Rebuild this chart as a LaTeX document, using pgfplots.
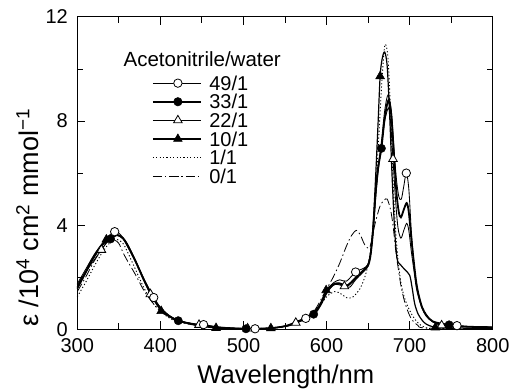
\documentclass[border=0pt]{standalone}
\usepackage{fontspec}
\setmainfont{Liberation Sans}
\usepackage{pgfplots}
\pgfplotsset{compat=1.18}
\begin{document}
\begin{tikzpicture}
\useasboundingbox (-77.3pt,-60.7pt) rectangle (432.7pt,329.3pt);
\begin{axis}[
  at={(0pt,0pt)}, anchor=south west, clip=false,
  scale only axis, width=415.4pt, height=312.4pt,
  xmin=300, xmax=800, ymin=0, ymax=12,
  xtick={300,400,...,800}, minor x tick num=1,
  ytick={0,4,8,12}, minor y tick num=1,
  tick align=inside, major tick length=8pt, minor tick length=6pt,
  every tick/.style={black, line width=0.9pt},
  axis line style={line width=1.1pt},
  /pgf/number format/assume math mode=true,
  /pgf/number format/1000 sep={},
  ticklabel style={font=\fontsize{20}{24}\selectfont},
  xticklabel style={inner sep=0pt, yshift=-8.7pt},
  yticklabel style={inner sep=0pt, xshift=-9.3pt},
  legend style={at={(axis description cs:0.1798,0.8177)}, anchor=north west, draw=none, fill=none,
    inner sep=0pt, outer sep=0pt, row sep=0pt, column sep=6pt,
    font=\fontsize{20}{20}\selectfont,
    nodes={inner xsep=1pt, inner ysep=2.05pt, text height=14.5pt, text depth=0pt}},
  legend cell align=left,
  legend image code/.code={\draw[mark repeat=2,mark phase=2,#1] plot coordinates {(0pt,0pt) (25pt,0pt) (48.5pt,0pt)};},
]
% ---------- curves ----------
% 0/1 dash-dot
\addplot[forget plot, black, line width=0.8pt, dash pattern=on 9pt off 3pt on 1.5pt off 3pt, smooth, tension=0.5] coordinates {
(300,1.45)(310,2.0)(320,2.6)(330,3.1)(338,3.4)(345,3.42)(350,3.3)(355,2.95)(360,2.65)(370,2.1)(380,1.5)(390,1.05)(400,0.7)(420,0.32)(450,0.12)(500,0.02)(550,0.1)(570,0.35)(585,0.7)(600,1.55)(608,2.0)(616,2.55)(624,3.2)(630,3.6)(636,3.8)(641,3.6)(646,3.25)(652,3.15)(658,4.0)(664,4.7)(669,4.95)(673,5.0)(677,4.6)(680,4.0)(683,3.1)(686,2.4)(690,1.6)(695,0.95)(702,0.4)(710,0.15)(720,0.05)(800,0.02)};
% 1/1 dotted
\addplot[forget plot, black, line width=0.9pt, dash pattern=on 1.2pt off 2.2pt, smooth, tension=0.5] coordinates {
(300,1.25)(310,1.8)(320,2.4)(330,2.95)(340,3.35)(348,3.45)(355,3.3)(360,3.0)(370,2.3)(380,1.6)(390,1.05)(400,0.7)(410,0.45)(420,0.3)(440,0.17)(460,0.08)(500,0.02)(530,0.03)(560,0.2)(580,0.5)(590,0.8)(600,1.25)(610,1.45)(618,1.35)(625,1.2)(632,1.25)(640,1.55)(646,2.0)(650,2.5)(654,3.3)(658,4.8)(662,6.9)(666,9.2)(669,10.6)(671,10.95)(674,10.4)(677,8.4)(680,5.8)(683,3.9)(686,2.7)(690,1.7)(695,1.1)(702,0.6)(710,0.25)(718,0.08)(730,0.03)(800,0.02)};
% 10/1
\addplot[forget plot, black, line width=1.2pt, smooth, tension=0.5] coordinates {
(300,1.55)(310,2.15)(320,2.75)(335,3.45)(342,3.6)(348,3.62)(355,3.48)(360,3.22)(370,2.6)(380,1.88)(390,1.25)(401,0.7)(410,0.5)(420,0.34)(430,0.25)(445,0.15)(467,0.05)(500,0.02)(533,0.04)(555,0.15)(570,0.35)(585,0.65)(592,0.95)(599.5,1.5)(607,1.72)(615,1.78)(625,1.7)(635,2.0)(645,2.3)(650,2.5)(653,2.95)(656,4.0)(659,5.8)(662,7.9)(664.5,9.72)(667,10.4)(670,10.65)(673,10.1)(676,8.2)(679,5.8)(682,3.8)(685,2.7)(688.5,2.5)(694,2.3)(700,2.08)(703,1.6)(706,1.0)(710,0.6)(715,0.35)(720,0.2)(731,0.07)(750,0.05)(800,0.04)};
% 22/1
\addplot[forget plot, black, line width=0.85pt, smooth, tension=0.5] coordinates {
(300,1.7)(310,2.2)(320,2.65)(329,3.05)(340,3.55)(347,3.65)(355,3.5)(360,3.28)(370,2.65)(380,1.92)(388,1.35)(400,0.8)(410,0.53)(420,0.36)(430,0.27)(446.5,0.17)(470,0.07)(505,0.03)(530,0.04)(550,0.12)(563,0.25)(575,0.4)(590,0.85)(600,1.4)(610,1.72)(621.5,1.65)(628,1.62)(635,1.9)(645,2.25)(650,2.45)(653,2.85)(656,3.7)(659,5.0)(662,6.0)(666,7.0)(670,8.0)(674.5,8.5)(677,8.0)(680,6.54)(683,5.0)(686,3.9)(689.5,3.5)(693,3.8)(696.5,4.07)(699,3.8)(702,3.0)(705,2.3)(708,1.6)(711,1.2)(715,0.8)(720,0.5)(728,0.28)(738.5,0.15)(760,0.1)(800,0.08)};
% 33/1 thick
\addplot[forget plot, black, line width=1.8pt, smooth, tension=0.5] coordinates {
(300,1.6)(310,2.2)(320,2.8)(330,3.25)(340,3.47)(348,3.62)(355,3.5)(360,3.25)(370,2.62)(380,1.92)(390,1.3)(400,0.8)(410,0.52)(421.5,0.33)(430,0.26)(440,0.2)(455,0.13)(470,0.07)(503,0.02)(530,0.04)(550,0.12)(565,0.3)(584.5,0.58)(593,0.95)(600,1.4)(608,1.72)(616,1.75)(624,1.65)(635,1.95)(645,2.25)(650,2.45)(653,2.85)(656,3.8)(659,5.2)(662,6.2)(666,6.95)(670,8.1)(674.5,8.8)(678,8.2)(681,6.8)(684,5.3)(687,4.5)(689.5,4.3)(693,4.6)(696.5,4.85)(699,4.5)(702,3.5)(705,2.6)(708,1.8)(711,1.3)(715,0.85)(720,0.55)(728,0.3)(747.5,0.17)(770,0.1)(800,0.08)};
% 49/1
\addplot[forget plot, black, line width=0.85pt, smooth, tension=0.5] coordinates {
(300,1.75)(310,2.3)(320,2.85)(330,3.3)(340,3.65)(345,3.75)(350,3.7)(360,3.3)(370,2.65)(380,1.95)(392,1.22)(400,0.85)(410,0.55)(420,0.36)(430,0.27)(440,0.21)(452,0.18)(470,0.09)(490,0.04)(514,0.02)(540,0.06)(560,0.22)(575,0.42)(590,0.85)(600,1.45)(608,1.78)(616,1.9)(624,1.85)(635,2.2)(645,2.35)(650,2.5)(653,2.9)(656,3.8)(659,5.2)(662,6.2)(666,7.2)(670,8.4)(674,9.0)(678,8.4)(681,7.0)(684,5.8)(687,5.1)(690,5.0)(693,5.5)(696,6.0)(699,5.4)(702,3.8)(705,2.6)(708,1.8)(711,1.3)(715,0.85)(720,0.55)(728,0.3)(740,0.17)(757,0.14)(775,0.1)(800,0.08)};
% ---------- markers ----------
\addplot[forget plot, only marks, mark=triangle*, mark size=5pt, mark options={fill=black, draw=black, line width=0.6pt}] coordinates {
(335,3.45)(401,0.7)(467,0.05)(533,0.04)(599.5,1.5)(664.5,9.72)(731,0.07)};
\addplot[forget plot, only marks, mark=triangle*, mark size=5pt, mark options={fill=white, draw=black, line width=0.8pt}] coordinates {
(329,3.05)(388,1.35)(446.5,0.17)(505,0.03)(563,0.25)(621.5,1.65)(680,6.54)(738.5,0.15)};
\addplot[forget plot, only marks, mark=*, mark size=4.2pt, mark options={fill=black, draw=black}] coordinates {
(340,3.47)(421.5,0.33)(503,0.02)(584.5,0.58)(666,6.95)(747.5,0.17)};
\addplot[forget plot, only marks, mark=*, mark size=4.2pt, mark options={fill=white, draw=black, line width=0.8pt}] coordinates {
(345,3.75)(392,1.22)(452,0.18)(514,0.02)(575,0.42)(635,2.2)(696,6.0)(757,0.14)};
% ---------- legend ----------
\addlegendimage{black, line width=0.85pt, mark=*, mark size=4.2pt, mark options={fill=white, line width=0.8pt}}
\addlegendentry{49/1}
\addlegendimage{black, line width=1.8pt, mark=*, mark size=4.2pt, mark options={fill=black, line width=0.6pt}}
\addlegendentry{33/1}
\addlegendimage{black, line width=0.85pt, mark=triangle*, mark size=5pt, mark options={fill=white, line width=0.8pt}}
\addlegendentry{22/1}
\addlegendimage{black, line width=1.2pt, mark=triangle*, mark size=5pt, mark options={fill=black, line width=0.6pt}}
\addlegendentry{10/1}
\addlegendimage{black, line width=0.9pt, dash pattern=on 1.2pt off 2.2pt}
\addlegendentry{1/1}
\addlegendimage{black, line width=0.8pt, dash pattern=on 9pt off 3pt on 1.5pt off 3pt}
\addlegendentry{0/1}
\node[anchor=base west, inner sep=0pt, font=\fontsize{20.5}{24}\selectfont] at (axis description cs:0.111,0.8406) {Acetonitrile/water};
\node[anchor=base, inner sep=0pt, font=\fontsize{25.6}{30}\selectfont] at (axis description cs:0.502,-0.1719) {Wavelength/nm};
\node[rotate=90, anchor=center, inner sep=0pt, font=\fontsize{27}{30}\selectfont] at (axis description cs:-0.12,0.357) {ε /10\textsuperscript{4} cm\textsuperscript{2} mmol\textsuperscript{−1}};
\end{axis}
\end{tikzpicture}
\end{document}
